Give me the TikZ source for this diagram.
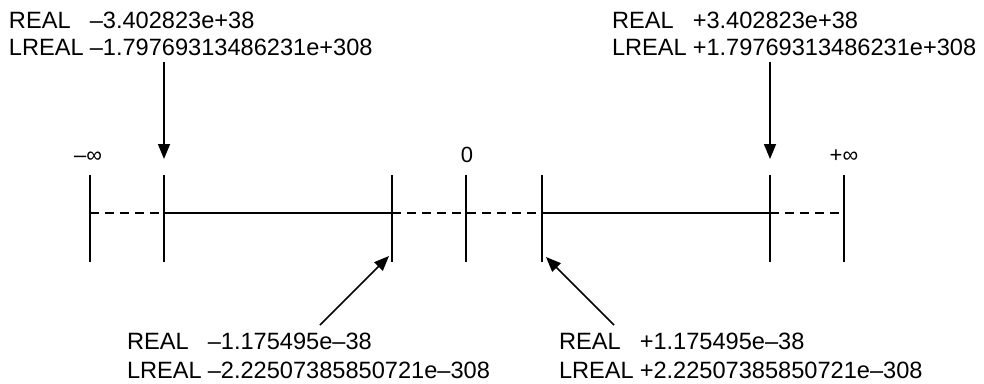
\documentclass[tikz,border=0pt]{standalone}
\usepackage{fontspec}
\setmainfont{Liberation Sans}
\usetikzlibrary{arrows.meta}
\begin{document}
\begin{tikzpicture}[x=1pt,y=-1pt,
  lbl/.style={inner sep=0pt, outer sep=0pt, anchor=base west, font=\fontsize{23.6}{27}\selectfont},
  axlbl/.style={inner sep=0pt, outer sep=0pt, anchor=base, font=\fontsize{22}{25}\selectfont},
  tick/.style={line width=2pt},
  axis/.style={line width=1.6pt},
  dashaxis/.style={line width=1.6pt, dash pattern=on 9pt off 6pt},
  arr/.style={line width=1.5pt, -{Triangle[length=15pt,width=12pt]}}]
\useasboundingbox (0,0) rectangle (984,383);
\foreach \n/\x in {1/90,2/164,3/392,4/466,5/542,6/770,7/844}{
  \coordinate (t\n) at (\x,175);
  \coordinate (b\n) at (\x,262);
  \coordinate (m\n) at (\x,213);
}
\foreach \n in {1,...,7}{ \draw[tick] (t\n) -- (b\n); }
\draw[dashaxis] (m1) -- (m2);
\draw[axis] (m2) -- (m3);
\draw[dashaxis] (m3) -- (m5);
\draw[axis] (m5) -- (m6);
\draw[dashaxis] (m6) -- (m7);
% axis labels
\node[axlbl] (ninf) at (88,162) {–∞};
\node[axlbl] (zero) at (467,162) {0};
\node[axlbl] (pinf) at (844,162) {+∞};
% value labels
\node[lbl] (tl) at (9,28) {\begin{tabular}[t]{@{}l@{\hspace{6pt}}l@{}}REAL & –3.402823e+38\\ LREAL & –1.79769313486231e+308\end{tabular}};
\node[lbl] (tr) at (612,28) {\begin{tabular}[t]{@{}l@{\hspace{6pt}}l@{}}REAL & +3.402823e+38\\ LREAL & +1.79769313486231e+308\end{tabular}};
\node[lbl] (bl) at (127,349) {\begin{tabular}[t]{@{}l@{\hspace{6pt}}l@{}}REAL & –1.175495e–38\\[2pt] LREAL & –2.22507385850721e–308\end{tabular}};
\node[lbl] (br) at (559,349) {\begin{tabular}[t]{@{}l@{\hspace{6pt}}l@{}}REAL & +1.175495e–38\\[2pt] LREAL & +2.22507385850721e–308\end{tabular}};
% arrows
\coordinate (a1s) at (164,62);
\coordinate (a1e) at (164,159);
\coordinate (a2s) at (770,62);
\coordinate (a2e) at (770,159);
\coordinate (a3s) at (320,325);
\coordinate (a3e) at (389,256);
\coordinate (a4s) at (614,325);
\coordinate (a4e) at (546,257);
\draw[arr] (a1s) -- (a1e);
\draw[arr] (a2s) -- (a2e);
\draw[arr] (a3s) -- (a3e);
\draw[arr] (a4s) -- (a4e);
\end{tikzpicture}
\end{document}
